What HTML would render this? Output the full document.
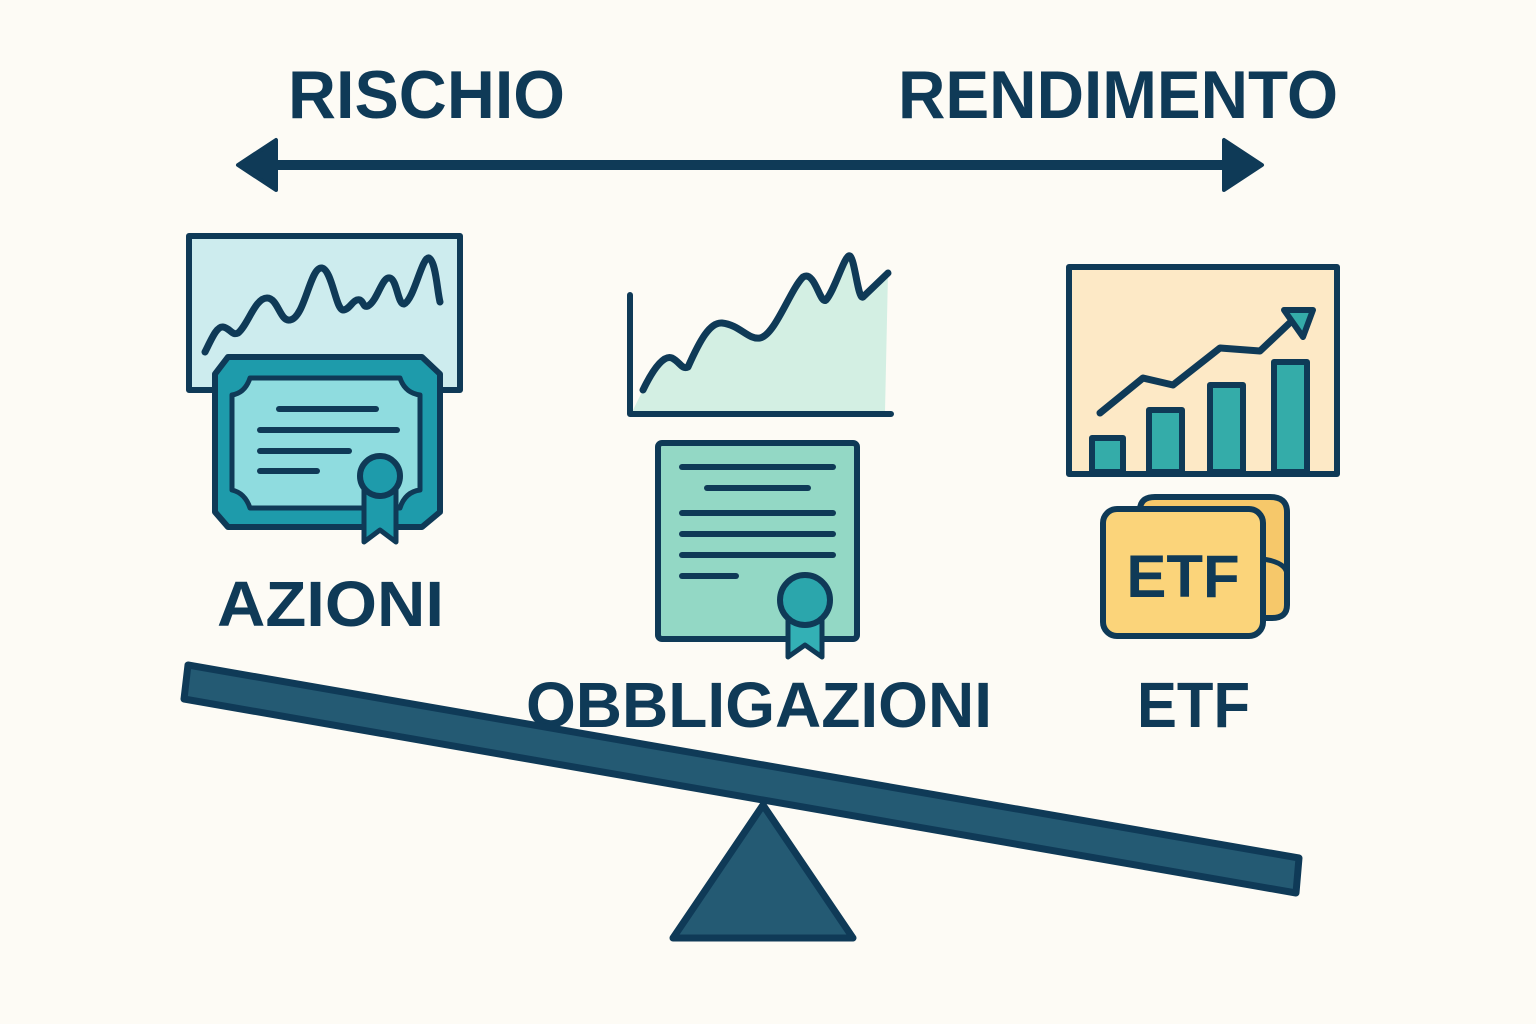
<!DOCTYPE html>
<html><head><meta charset="utf-8"><style>html,body{margin:0;padding:0;background:#fdfbf5}svg{display:block}</style></head>
<body>
<svg width="1536" height="1024" viewBox="0 0 1536 1024" xmlns="http://www.w3.org/2000/svg" font-family="'Liberation Sans', sans-serif" font-weight="bold">
<rect width="1536" height="1024" fill="#fdfbf5"/>
<g fill="#0f3a57">
<text x="288" y="118" font-size="68" textLength="277" lengthAdjust="spacingAndGlyphs">RISCHIO</text>
<text x="898" y="118" font-size="68" textLength="440" lengthAdjust="spacingAndGlyphs">RENDIMENTO</text>
</g>
<line x1="265" y1="165" x2="1235" y2="165" stroke="#0f3a57" stroke-width="10"/>
<polygon points="238,165 276,140 276,190" fill="#0f3a57" stroke="#0f3a57" stroke-width="4" stroke-linejoin="round"/>
<polygon points="1262,165 1224,140 1224,190" fill="#0f3a57" stroke="#0f3a57" stroke-width="4" stroke-linejoin="round"/>

<g stroke="#0f3a57" stroke-linecap="round" stroke-linejoin="round">
<!-- Azioni -->
<rect x="189" y="236" width="271" height="154" fill="#cdecee" stroke-width="6"/>
<path d="M205,352 C212,338 217,326 223,327 C230,328 232,336 238,333 C248,325 255,298 267,298 C278,298 280,322 290,320 C305,318 310,266 322,268 C332,270 336,310 343,310 C350,310 353,298 360,300 C364,302 363,308 368,306 C378,300 382,276 390,278 C397,280 398,305 404,304 C414,300 422,256 429,258 C436,262 437,290 440,302" fill="none" stroke-width="7"/>
<path d="M228,357 L422,357 L440,374 L440,512 L422,527 L228,527 L215,512 L215,374 Z" fill="#1e9bab" stroke-width="6"/>
<path d="M250,378 L400,378 Q405,393 420,395 L420,490 Q405,492 400,508 L250,508 Q245,493 232,490 L232,395 Q245,393 250,378 Z" fill="#8fdcdf" stroke-width="5"/>
<g stroke-width="6"><line x1="279" y1="409" x2="376" y2="409"/><line x1="260" y1="430" x2="397" y2="430"/><line x1="260" y1="451" x2="349" y2="451"/><line x1="260" y1="471" x2="317" y2="471"/></g>
<path d="M364,490 L364,542 L380,530 L396,542 L396,490 Z" fill="#1e9bab" stroke-width="5"/>
<circle cx="380" cy="476" r="20" fill="#1e9bab" stroke-width="6"/>

<!-- Obbligazioni -->
<path d="M643,390 C655,365 665,355 672,358 C680,362 682,370 688,367 C700,340 710,322 722,323 C740,325 748,340 760,338 C775,335 790,290 803,277 C815,270 820,305 826,300 C835,290 845,253 850,256 C855,260 858,300 863,297 L888,273 L885,412 L632,412 Z" fill="#d3efe3" stroke="none"/>
<path d="M643,390 C655,365 665,355 672,358 C680,362 682,370 688,367 C700,340 710,322 722,323 C740,325 748,340 760,338 C775,335 790,290 803,277 C815,270 820,305 826,300 C835,290 845,253 850,256 C855,260 858,300 863,297 L888,273" fill="none" stroke-width="7"/>
<path d="M630,295 L630,414 L891,414" fill="none" stroke-width="6"/>
<rect x="658" y="443" width="199" height="196" rx="4" fill="#93d8c5" stroke-width="6"/>
<g stroke-width="6"><line x1="682" y1="467" x2="833" y2="467"/><line x1="707" y1="488" x2="808" y2="488"/><line x1="682" y1="513" x2="833" y2="513"/><line x1="682" y1="534" x2="833" y2="534"/><line x1="682" y1="555" x2="833" y2="555"/><line x1="682" y1="576" x2="736" y2="576"/></g>
<path d="M788,615 L788,657 L805,645 L822,657 L822,615 Z" fill="#33b0b5" stroke-width="5"/>
<circle cx="805" cy="600" r="25" fill="#2ba6ac" stroke-width="6"/>

<!-- ETF -->
<rect x="1069" y="267" width="268" height="207" fill="#fde9c6" stroke-width="6"/>
<g fill="#34aca9" stroke-width="6">
<rect x="1092" y="438" width="31" height="34"/><rect x="1149" y="410" width="33" height="62"/><rect x="1210" y="385" width="33" height="87"/><rect x="1274" y="362" width="33" height="110"/>
</g>
<path d="M1100,413 L1143,378 L1173,385 L1220,348 L1260,351 L1297,316" fill="none" stroke-width="7"/>
<polygon points="1284,310 1313,310 1303,337" fill="#34aca9" stroke-width="6"/>
<path d="M1140,510 Q1140,497 1155,497 L1270,497 Q1287,497 1287,512 L1287,605 Q1287,618 1272,618 L1150,618 Z" fill="#f6c86a" stroke-width="6"/>
<path d="M1225,558 Q1287,555 1287,575" fill="none" stroke-width="5"/>
<rect x="1103" y="509" width="160" height="127" rx="14" fill="#fbd47a" stroke-width="6"/>
</g>
<text x="1183" y="597" font-size="60" fill="#0f3a57" text-anchor="middle">ETF</text>

<g fill="#0f3a57">
<text x="217" y="626" font-size="64" textLength="227" lengthAdjust="spacingAndGlyphs">AZIONI</text>
<text x="526" y="727" font-size="64" textLength="466" lengthAdjust="spacingAndGlyphs">OBBLIGAZIONI</text>
<text x="1137" y="727" font-size="64" textLength="113" lengthAdjust="spacingAndGlyphs">ETF</text>
</g>

<!-- seesaw -->
<polygon points="763,805 853,938 673,938" fill="#245a73" stroke="#0f3a57" stroke-width="7" stroke-linejoin="round"/>
<polygon points="188,665 1299,858 1296,893 184,699" fill="#245a73" stroke="#0f3a57" stroke-width="7" stroke-linejoin="round"/>
</svg>
</body></html>
